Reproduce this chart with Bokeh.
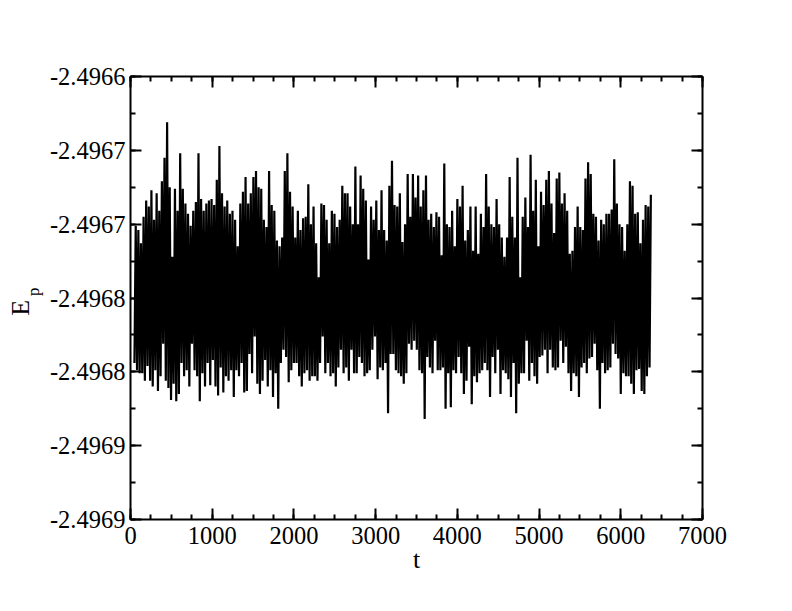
import numpy as np
from bokeh.plotting import figure
from bokeh.models import (FixedTicker, LinearAxis, Range1d,
                          ColumnDataSource, CustomJSTickFormatter)
from bokeh.embed import file_html
from bokeh.resources import INLINE

# ---------------- data ----------------
t_first = 48
t_step = 16

Ep_troughs = [
    -2.496794, -2.496799, -2.496801, -2.496801, -2.496806, -2.496796, -2.496806, -2.496810, -2.496799, -2.496813,
    -2.496803, -2.496781, -2.496806, -2.496811, -2.496819, -2.496808, -2.496820, -2.496815, -2.496794, -2.496803,
    -2.496799, -2.496810, -2.496781, -2.496799, -2.496803, -2.496820, -2.496801, -2.496810, -2.496794, -2.496809,
    -2.496792, -2.496810, -2.496816, -2.496797, -2.496814, -2.496803, -2.496806, -2.496799, -2.496817, -2.496799,
    -2.496803, -2.496794, -2.496814, -2.496813, -2.496788, -2.496801, -2.496776, -2.496808, -2.496815,
    -2.496806, -2.496792, -2.496810, -2.496799, -2.496817, -2.496801, -2.496825, -2.496794, -2.496785, -2.496790,
    -2.496807, -2.496799, -2.496794, -2.496794, -2.496803, -2.496810, -2.496801, -2.496799, -2.496806, -2.496803,
    -2.496803, -2.496806, -2.496794, -2.496776, -2.496801, -2.496794, -2.496803, -2.496801, -2.496810, -2.496797,
    -2.496785, -2.496801, -2.496797, -2.496806, -2.496785, -2.496801, -2.496801, -2.496790, -2.496794, -2.496803,
    -2.496801, -2.496799, -2.496785, -2.496776, -2.496805, -2.496797, -2.496799, -2.496794, -2.496828, -2.496788,
    -2.496788, -2.496799, -2.496801, -2.496803, -2.496808, -2.496801, -2.496781, -2.496785, -2.496779, -2.496785,
    -2.496799, -2.496801, -2.496832, -2.496790, -2.496797, -2.496801, -2.496779, -2.496799, -2.496799, -2.496797,
    -2.496825, -2.496801, -2.496824, -2.496799, -2.496801, -2.496790, -2.496801, -2.496815, -2.496806, -2.496783,
    -2.496822, -2.496803, -2.496807, -2.496801, -2.496799, -2.496794, -2.496799, -2.496817, -2.496790, -2.496801,
    -2.496785, -2.496815, -2.496799, -2.496801, -2.496805, -2.496817, -2.496794, -2.496828, -2.496808, -2.496801,
    -2.496801, -2.496779, -2.496806, -2.496794, -2.496803, -2.496808, -2.496790, -2.496789, -2.496785, -2.496801,
    -2.496785, -2.496797, -2.496799, -2.496797, -2.496779, -2.496794, -2.496783, -2.496801, -2.496813, -2.496801,
    -2.496803, -2.496817, -2.496797, -2.496794, -2.496801, -2.496791, -2.496790, -2.496781, -2.496799, -2.496825,
    -2.496794, -2.496801, -2.496799, -2.496797, -2.496781, -2.496788, -2.496791, -2.496815, -2.496801, -2.496803,
    -2.496803, -2.496808, -2.496815, -2.496799, -2.496798, -2.496813, -2.496815, -2.496803, -2.496797,
]

Ep_peaks = [
    -2.496701, -2.496704, -2.496713, -2.496695, -2.496684, -2.496688, -2.496677, -2.496697, -2.496679, -2.496691,
    -2.496671, -2.496655, -2.496631, -2.496675, -2.496722, -2.496676, -2.496691, -2.496652, -2.496676, -2.496686,
    -2.496693, -2.496701, -2.496691, -2.496685, -2.496652, -2.496683, -2.496691, -2.496686, -2.496684, -2.496683,
    -2.496687, -2.496670, -2.496647, -2.496679, -2.496688, -2.496684, -2.496693, -2.496691, -2.496697, -2.496715,
    -2.496686, -2.496678, -2.496668, -2.496686, -2.496679, -2.496668, -2.496664, -2.496675, -2.496676,
    -2.496697, -2.496702, -2.496664, -2.496687, -2.496691, -2.496711, -2.496715, -2.496709, -2.496664, -2.496652,
    -2.496678, -2.496688, -2.496709, -2.496691, -2.496704, -2.496696, -2.496695, -2.496673, -2.496700, -2.496688,
    -2.496713, -2.496736, -2.496686, -2.496687, -2.496697, -2.496713, -2.496691, -2.496693, -2.496702, -2.496697,
    -2.496674, -2.496679, -2.496679, -2.496688, -2.496700, -2.496661, -2.496700, -2.496667, -2.496676, -2.496684,
    -2.496724, -2.496688, -2.496697, -2.496684, -2.496704, -2.496677, -2.496704, -2.496711, -2.496674, -2.496657,
    -2.496687, -2.496688, -2.496679, -2.496712, -2.496700, -2.496666, -2.496695, -2.496666, -2.496682, -2.496667,
    -2.496688, -2.496677, -2.496667, -2.496697, -2.496693, -2.496702, -2.496692, -2.496695, -2.496721, -2.496659,
    -2.496700, -2.496702, -2.496691, -2.496715, -2.496683, -2.496688, -2.496674, -2.496711, -2.496704, -2.496688,
    -2.496718, -2.496688, -2.496720, -2.496693, -2.496702, -2.496666, -2.496688, -2.496700, -2.496702, -2.496683,
    -2.496700, -2.496709, -2.496722, -2.496709, -2.496668, -2.496695, -2.496709, -2.496655, -2.496736, -2.496695,
    -2.496682, -2.496702, -2.496653, -2.496691, -2.496670, -2.496715, -2.496678, -2.496687, -2.496670, -2.496664,
    -2.496686, -2.496706, -2.496669, -2.496665, -2.496686, -2.496679, -2.496691, -2.496720, -2.496718, -2.496702,
    -2.496688, -2.496702, -2.496704, -2.496669, -2.496658, -2.496666, -2.496693, -2.496695, -2.496711, -2.496697,
    -2.496700, -2.496693, -2.496693, -2.496690, -2.496656, -2.496686, -2.496700, -2.496702, -2.496718, -2.496700,
    -2.496671, -2.496674, -2.496693, -2.496692, -2.496713, -2.496697, -2.496687, -2.496688, -2.496680,
]

x_ticks = [0, 1000, 2000, 3000, 4000, 5000, 6000, 7000]
x_minor_step = 250
y_ticks = [-2.4969, -2.49685, -2.4968, -2.49675, -2.4967, -2.49665, -2.4966]
y_tick_labels = ["-2.4969", "-2.4969", "-2.4968", "-2.4968", "-2.4967", "-2.4967", "-2.4966"]

# ---------------- series ----------------
n = min(len(Ep_troughs), len(Ep_peaks))
E = np.empty(2 * n)
E[0::2] = Ep_troughs[:n]
E[1::2] = Ep_peaks[:n]
t = t_first + t_step * np.arange(2 * n)
src = ColumnDataSource(dict(t=t, E=E))

FONT = "Liberation Serif"

p = figure(frame_width=572, frame_height=443,
           min_border_left=130, min_border_right=74,
           min_border_top=76, min_border_bottom=84,
           x_range=Range1d(0, 7000), y_range=Range1d(-2.4969, -2.4966),
           output_backend="svg", toolbar_location=None,
           background_fill_color="white", border_fill_color="white")
p.xgrid.visible = False
p.ygrid.visible = False
p.outline_line_color = None

p.line("t", "E", source=src, line_color="black", line_width=2.2)

bottom = p.below[0]
left = p.left[0]

x_minor = list(range(x_ticks[0], x_ticks[-1] + 1, x_minor_step))
y_minor = sorted(set(np.round(np.linspace(y_ticks[0], y_ticks[-1],
                                          2 * (len(y_ticks) - 1) + 1), 7).tolist()))
xt = FixedTicker(ticks=x_ticks, minor_ticks=x_minor)
yt = FixedTicker(ticks=y_ticks, minor_ticks=y_minor)

yfmt = CustomJSTickFormatter(args=dict(yv=y_ticks, yl=y_tick_labels), code="""
let best = 0, d = Infinity;
for (let i = 0; i < yv.length; i++) { const e = Math.abs(yv[i] - tick); if (e < d) { d = e; best = i; } }
return yl[best];
""")
blank = CustomJSTickFormatter(code="return '';")

top = LinearAxis(ticker=xt, formatter=blank)
right = LinearAxis(ticker=yt, formatter=blank)
p.add_layout(top, "above")
p.add_layout(right, "right")

bottom.ticker = xt
left.ticker = yt
left.formatter = yfmt

for ax in [bottom, left, top, right]:
    ax.major_tick_in = 11
    ax.major_tick_out = 0
    ax.minor_tick_in = 5
    ax.minor_tick_out = 0
    ax.axis_line_width = 2
    ax.major_tick_line_width = 2
    ax.minor_tick_line_width = 2
    ax.axis_line_color = "black"
    ax.major_tick_line_color = "black"
    ax.minor_tick_line_color = "black"
    ax.major_label_text_font = FONT
    ax.major_label_text_font_size = "24.5px"
    ax.major_label_text_color = "black"

top.major_label_text_font_size = "0px"
right.major_label_text_font_size = "0px"
top.major_label_standoff = 0
right.major_label_standoff = 0

bottom.major_label_standoff = 7
left.major_label_standoff = 5

bottom.axis_label = "t"
bottom.axis_label_text_font = FONT
bottom.axis_label_text_font_size = "26px"
bottom.axis_label_text_font_style = "normal"
bottom.axis_label_text_color = "black"
bottom.axis_label_standoff = -2


def label_axis(text, size, standoff):
    ax = LinearAxis(ticker=FixedTicker(ticks=[]), formatter=blank)
    ax.axis_line_color = None
    ax.major_tick_in = 0
    ax.major_tick_out = 0
    ax.minor_tick_in = 0
    ax.minor_tick_out = 0
    ax.major_label_standoff = 0
    ax.major_label_text_font_size = "0px"
    ax.axis_label = text
    ax.axis_label_text_font = FONT
    ax.axis_label_text_font_size = size
    ax.axis_label_text_font_style = "normal"
    ax.axis_label_text_color = "black"
    ax.axis_label_standoff = standoff
    return ax


# subscript "p" (inner) and "E" (outer) of the y label E_p
p.add_layout(label_axis("\u00a0\u00a0\u00a0p", "17px", 4), "left")
p.add_layout(label_axis("E\u00a0\u00a0\u00a0", "26px", -14), "left")

open("out.html", "w").write(file_html(p, INLINE))
